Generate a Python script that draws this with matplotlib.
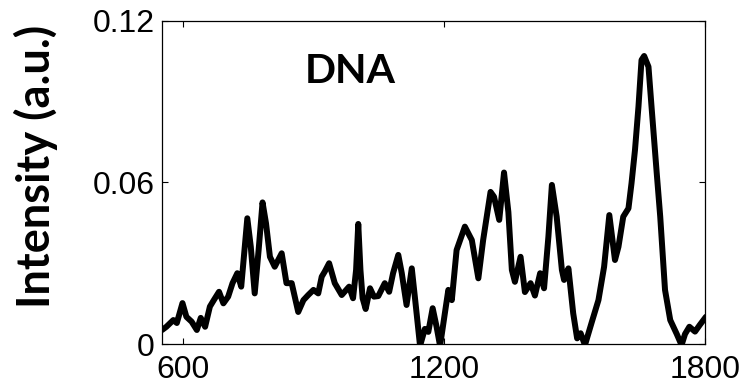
import matplotlib
matplotlib.use("Agg")
import matplotlib.pyplot as plt

# Raman spectrum
wavenumber = [552, 562, 578, 586, 599, 608, 620, 632, 641, 651, 662, 671, 683, 693, 704,
              714, 725, 734, 748, 756, 765, 774, 783, 791, 800, 811, 827, 838, 850, 865,
              877, 888, 900, 911, 919, 926, 936, 949, 965, 982, 991, 998, 1003, 1008, 1013,
              1020, 1030, 1039, 1049, 1064, 1074, 1083, 1095, 1103, 1114, 1126, 1133, 1145,
              1156, 1164, 1174, 1183, 1191, 1202, 1210, 1218, 1229, 1248, 1264, 1279, 1290,
              1307, 1315, 1327, 1338, 1348, 1356, 1363, 1376, 1386, 1399, 1409, 1421, 1430,
              1440, 1448, 1459, 1471, 1476, 1486, 1497, 1506, 1514, 1524, 1540, 1555, 1568,
              1580, 1593, 1601, 1612, 1624, 1631, 1639, 1647, 1654, 1660, 1670, 1677, 1689,
              1697, 1708, 1720, 1735, 1746, 1754, 1764, 1777, 1788, 1802]
intensity = [0.0052, 0.0064, 0.0089, 0.0078, 0.0152, 0.0101, 0.0083, 0.0052, 0.0097, 0.0064,
             0.0139, 0.0163, 0.0194, 0.0151, 0.0176, 0.0226, 0.0263, 0.0213, 0.0467, 0.0361,
             0.0188, 0.0349, 0.0526, 0.0448, 0.0324, 0.0287, 0.0337, 0.0226, 0.0226, 0.0119,
             0.0163, 0.0182, 0.0201, 0.0188, 0.0250, 0.0269, 0.0300, 0.0226, 0.0182, 0.0213,
             0.0170, 0.0275, 0.0446, 0.0275, 0.0170, 0.0130, 0.0207, 0.0176, 0.0178, 0.0226,
             0.0194, 0.0263, 0.0331, 0.0263, 0.0145, 0.0281, 0.0176, -0.0007, 0.0056, 0.0045,
             0.0133, 0.0064, -0.0007, 0.0114, 0.0201, 0.0163, 0.0349, 0.0436, 0.0386, 0.0244,
             0.0386, 0.0565, 0.0547, 0.0461, 0.0637, 0.0490, 0.0275, 0.0231, 0.0324, 0.0193,
             0.0226, 0.0180, 0.0263, 0.0207, 0.0399, 0.0591, 0.0473, 0.0275, 0.0238, 0.0281,
             0.0114, 0.0021, 0.0040, -0.0004, 0.0083, 0.0163, 0.0287, 0.0479, 0.0312, 0.0361,
             0.0473, 0.0504, 0.0597, 0.0721, 0.0882, 0.1055, 0.1070, 0.1030, 0.0882, 0.0634,
             0.0473, 0.0201, 0.0089, 0.0037, -0.0004, 0.0037, 0.0064, 0.0046, 0.0071, 0.0101]

xticks = [600, 1200, 1800]
yticks = [0, 0.06, 0.12]
yticklabels = ["0", "0.06", "0.12"]

fig = plt.figure(figsize=(7.46, 3.88), dpi=100)
ax = fig.add_axes([0.2172, 0.1134, 0.7279, 0.8325])

ax.plot(wavenumber, intensity, color="black", linewidth=4.3,
        solid_joinstyle="round", solid_capstyle="round")

ax.set_xlim(552, 1800)
ax.set_ylim(0, 0.12)
ax.set_xticks(xticks)
ax.set_xticklabels([str(t) for t in xticks])
ax.set_yticks(yticks)
ax.set_yticklabels(yticklabels)

ax.tick_params(direction="in", length=4.5, width=0.8, top=True, right=True,
               labelsize=23)
ax.tick_params(axis="x", pad=8)
ax.tick_params(axis="y", pad=5.5)
for lab in ax.get_xticklabels() + ax.get_yticklabels():
    lab.set_family("Liberation Sans")
for sp in ax.spines.values():
    sp.set_linewidth(0.9)

ax.text(880, 0.1012, "DNA", fontsize=29.5, fontweight="bold", family="Lato",
        ha="left", va="center")

fig.text(36 / 746, 1 - 166 / 388, "Intensity (a.u.)", rotation=90,
         fontsize=32.5, fontweight="bold", family="Lato", ha="center", va="center")

fig.savefig("out.png", dpi=100)
